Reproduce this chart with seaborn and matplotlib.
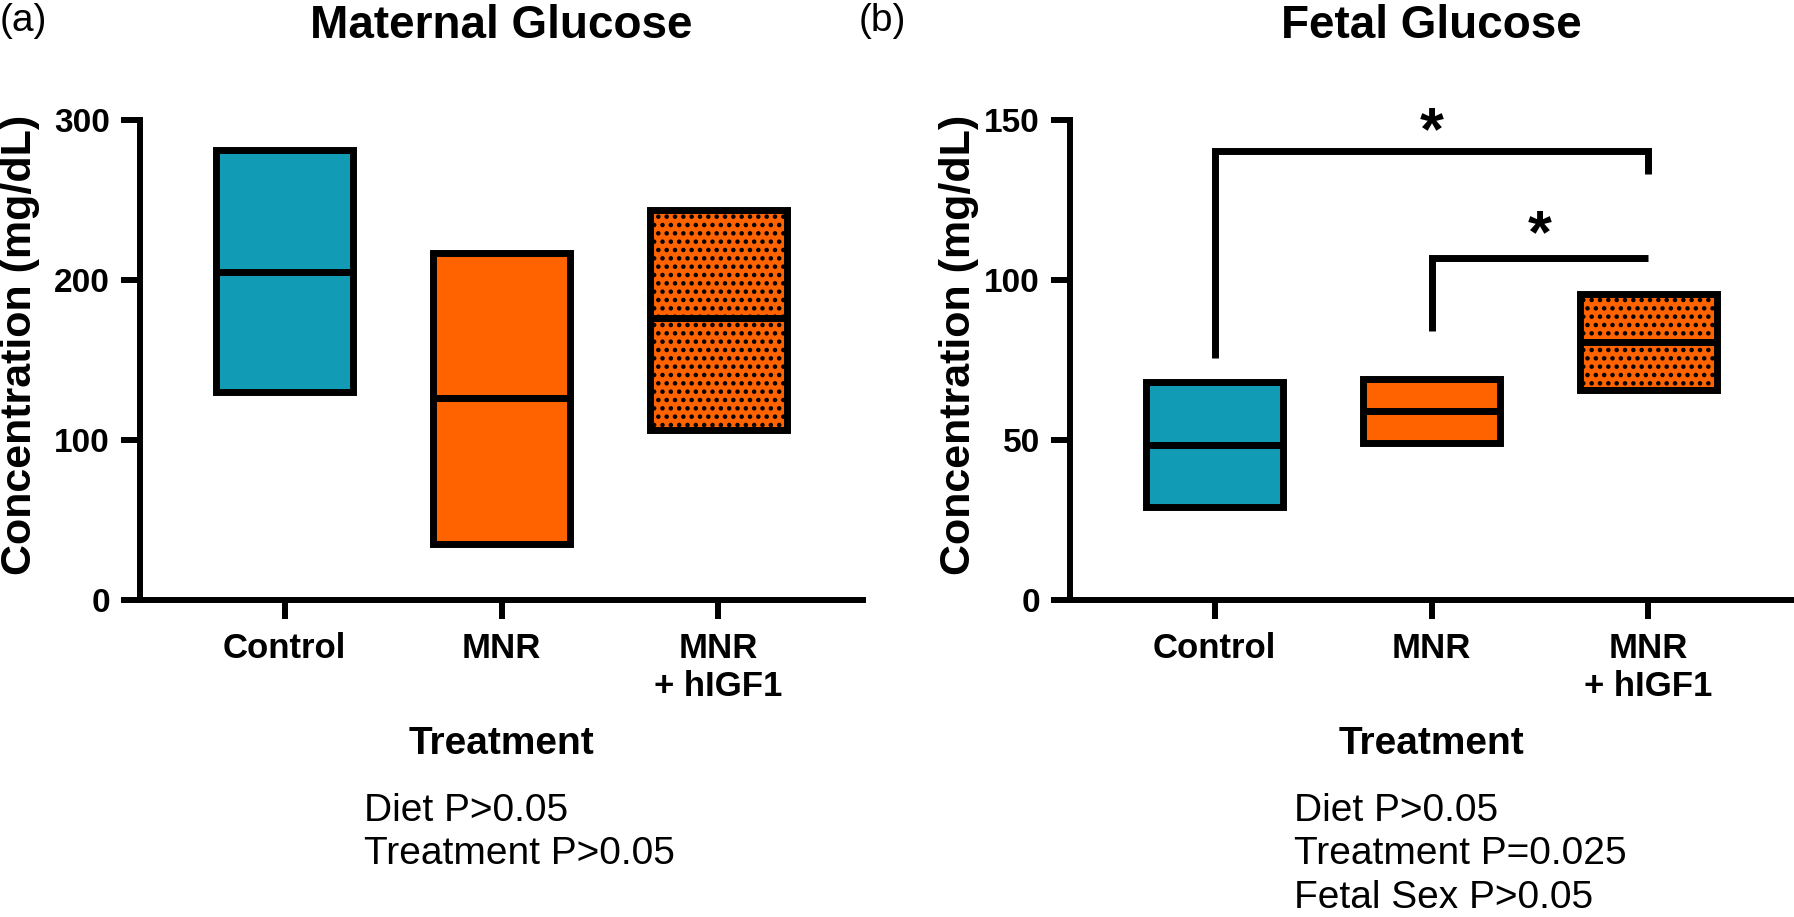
import numpy as np
import pandas as pd
import matplotlib
matplotlib.use("Agg")
import matplotlib.pyplot as plt
import seaborn as sns

# ---------------- data ----------------
categories = ["Control", "MNR", "MNR\n+ hIGF1"]

maternal_min = [130, 35, 106]
maternal_median = [205, 126, 176]
maternal_max = [281, 217, 244]

fetal_min = [29, 49, 65.5]
fetal_median = [48.5, 59, 80.5]
fetal_max = [68, 69, 95.5]

maternal_yticks = [0, 100, 200, 300]
fetal_yticks = [0, 50, 100, 150]

# significance brackets (fetal): (left cat, right cat, left foot, top, right foot)
bracket_left = [0, 1]
bracket_right = [2, 2]
bracket_left_foot = [75.5, 84]
bracket_top = [140.3, 107]
bracket_right_foot = [133, 107]
star_x = [1.0, 1.5]
star_y = [140.8, 108.6]

maternal_stats = ["Diet P>0.05", "Treatment P>0.05"]
fetal_stats = ["Diet P>0.05", "Treatment P=0.025", "Fetal Sex P>0.05"]

colors = {"Control": "#119BB5", "MNR": "#FF6300", "MNR\n+ hIGF1": "#FF6300"}

# ---------------- style ----------------
sns.set_style("ticks")
plt.rcParams["font.family"] = ["Liberation Sans", "DejaVu Sans"]
plt.rcParams["hatch.linewidth"] = 2.0
plt.rcParams["axes.linewidth"] = 4.3
for k in ["text.color", "axes.labelcolor", "xtick.color", "ytick.color",
          "axes.edgecolor"]:
    plt.rcParams[k] = "black"

W, H = 1794, 917
fig = plt.figure(figsize=(W / 100, H / 100), dpi=100)

def px_axes(left, bottom_y, right, top_y):
    return [left / W, 1 - bottom_y / H, (right - left) / W, (bottom_y - top_y) / H]

ax1 = fig.add_axes(px_axes(140, 600, 863, 120))
ax2 = fig.add_axes(px_axes(1070, 600, 1793, 120))


def long_form(lo, mid, hi):
    rows = []
    for c, a, m, b in zip(categories, lo, mid, hi):
        for v in (a, a, m, b, b):
            rows.append({"group": c, "value": v})
    return pd.DataFrame(rows)


def draw(ax, lo, mid, hi, yticks, title, stats, ylabel_x):
    df = long_form(lo, mid, hi)
    sns.boxplot(data=df, x="group", y="value", hue="group", order=categories,
                hue_order=categories, palette=colors, saturation=1, width=0.63,
                linewidth=5, linecolor="black", whis=0, showcaps=False,
                fliersize=0, legend=False, ax=ax)
    boxes = [p for p in ax.patches]
    if len(boxes) >= 3:
        boxes[2].set_hatch("..")
    for p in boxes:
        p.set_joinstyle("miter")
    ax.set_xlim(-2 / 3, 8 / 3)
    ax.set_ylim(yticks[0], yticks[-1])
    ax.set_yticks(yticks)
    ax.set_xticks(range(len(categories)))
    ax.set_xticklabels(categories)
    sns.despine(ax=ax)
    ax.tick_params(axis="both", direction="out", length=13.7, width=4.3,
                   labelsize=24, pad=8, colors="black")
    ax.tick_params(axis="x", pad=9, labelsize=25)
    for lab in ax.get_xticklabels() + ax.get_yticklabels():
        lab.set_fontweight("bold")
    ax.set_xlabel("Treatment", fontsize=28, fontweight="bold")
    ax.xaxis.set_label_coords(0.5, (600 - 726) / 480)
    ax.set_ylabel("Concentration (mg/dL)", fontsize=31, fontweight="bold")
    ax.yaxis.label.set_va("center")
    ax.yaxis.set_label_coords(ylabel_x, (600 - 345) / 480)
    ax.text(0.5, (600 - 38) / 480, title, transform=ax.transAxes, ha="center",
            va="baseline", fontsize=33, fontweight="bold")
    for i, s in enumerate(stats):
        ax.text((364 - 140) / 723, (600 - 821 - 43.5 * i) / 480, s,
                transform=ax.transAxes, ha="left", va="baseline", fontsize=28)


draw(ax1, maternal_min, maternal_median, maternal_max, maternal_yticks,
     "Maternal Glucose", maternal_stats, -0.166)
draw(ax2, fetal_min, fetal_median, fetal_max, fetal_yticks,
     "Fetal Glucose", fetal_stats, -0.154)

for xl, xr, yl, yt, yr in zip(bracket_left, bracket_right, bracket_left_foot,
                              bracket_top, bracket_right_foot):
    ax2.plot([xl, xl, xr, xr], [yl, yt, yt, yr], color="black", lw=5,
             solid_joinstyle="miter", solid_capstyle="butt", clip_on=False)
for sx, sy in zip(star_x, star_y):
    ax2.text(sx, sy, "*", ha="center", va="baseline", fontsize=44,
             fontweight="bold")

fig.text(0.0, 1 - 31 / H, "(a)", ha="left", va="baseline", fontsize=28)
fig.text(859 / W, 1 - 31 / H, "(b)", ha="left", va="baseline", fontsize=28)

fig.savefig("out.png", dpi=100)
